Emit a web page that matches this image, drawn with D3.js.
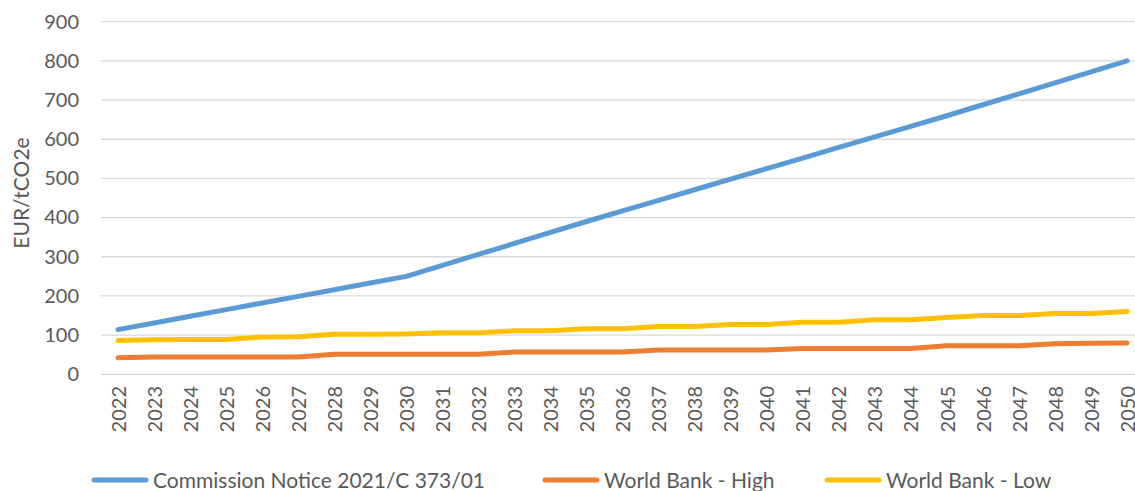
<!DOCTYPE html>
<html>
  <head>
    <meta charset="UTF-8">
    <title>Carbon price paths</title>
    <style>
    body {
      margin: 0;
      background: #fff;
    }
    svg text {
      font-family: Lato, "Open Sans", sans-serif;
      fill: #595959;
    }
    .grid line {
      stroke: #d9d9d9;
      stroke-width: 1.3px;
    }
    .series {
      fill: none;
      stroke-width: 5px;
      stroke-linejoin: round;
      stroke-linecap: round;
    }
    </style>
  </head>
  <body>
    <svg width="1135" height="491"></svg>
    <script src="https://d3js.org/d3.v7.min.js"></script>
    <script>
// data (EUR/tCO2e)
var years = [2022, 2023, 2024, 2025, 2026, 2027, 2028, 2029, 2030, 2031,
             2032, 2033, 2034, 2035, 2036, 2037, 2038, 2039, 2040, 2041,
             2042, 2043, 2044, 2045, 2046, 2047, 2048, 2049, 2050];
var commission = [114, 131, 148, 165, 182, 199, 216, 233, 250, 278,
                  306, 334, 362, 390, 417, 444, 471, 498, 525, 552,
                  579, 606, 633, 660, 688, 716, 744, 772, 800];
var wbHigh = [42, 44, 44, 44, 44, 44, 51, 51, 51, 51,
              51, 57, 57, 57, 57, 62, 62, 62, 62, 66,
              66, 66, 66, 73, 73, 73, 78, 79, 80];
var wbLow = [86, 88, 89, 89, 95, 96, 102, 102, 103, 106,
             106, 111, 111, 116, 116, 122, 122, 127, 127, 133,
             133, 139, 139, 145, 150, 150, 155, 155, 160];
var yTicks = [0, 100, 200, 300, 400, 500, 600, 700, 800, 900];
var seriesNames = ["Commission Notice 2021/C 373/01", "World Bank - High", "World Bank - Low"];
var seriesColors = ["#5b9bd5", "#ed7d31", "#ffc000"];

var svg = d3.select("svg");

var x = d3.scalePoint().domain(years).range([118, 1127]);
var y = d3.scaleLinear().domain([0, 900]).range([374.3, 21.7]);

// horizontal gridlines
svg.append("g")
    .attr("class", "grid")
  .selectAll("line")
  .data(yTicks)
  .enter().append("line")
    .attr("x1", 101)
    .attr("x2", 1135)
    .attr("y1", d => y(d))
    .attr("y2", d => y(d));

// y axis labels
var yAxis = svg.append("g")
    .attr("transform", "translate(79,0)")
    .call(d3.axisLeft(y).tickValues(yTicks).tickSize(0).tickPadding(0));
yAxis.select(".domain").remove();
yAxis.selectAll("text")
    .style("font-size", "20px")
    .style("font-family", "Lato, sans-serif")
    .attr("fill", "#595959");

svg.append("text")
    .attr("transform", "translate(29,193) rotate(-90)")
    .attr("text-anchor", "middle")
    .style("font-size", "21px")
    .text("EUR/tCO2e");

// x axis labels, rotated
var xAxis = svg.append("g")
    .attr("transform", "translate(0,386)")
    .call(d3.axisBottom(x).tickSize(0).tickPadding(0));
xAxis.select(".domain").remove();
xAxis.selectAll("text")
    .style("font-size", "20px")
    .style("font-family", "Lato, sans-serif")
    .attr("fill", "#595959")
    .attr("text-anchor", "end")
    .attr("transform", "rotate(-90)")
    .attr("x", 0)
    .attr("y", 0)
    .attr("dy", "0.36em");

// lines
var line = d3.line()
    .x((d, i) => x(years[i]))
    .y(d => y(d));

var allSeries = [commission, wbHigh, wbLow];

svg.selectAll("path.series")
  .data(allSeries)
  .enter().append("path")
    .attr("class", "series")
    .attr("stroke", (d, i) => seriesColors[i])
    .attr("d", line);

// legend
var legendX = [92, 543, 825];
var legend = svg.selectAll("g.legend")
  .data(seriesNames)
  .enter().append("g")
    .attr("class", "legend")
    .attr("transform", (d, i) => "translate(" + legendX[i] + ",480)");

legend.append("line")
    .attr("x1", 2)
    .attr("x2", 54)
    .attr("stroke", (d, i) => seriesColors[i])
    .attr("stroke-width", 5)
    .attr("stroke-linecap", "round");

legend.append("text")
    .attr("x", 61)
    .attr("dy", "0.36em")
    .style("font-size", "21px")
    .text(d => d);
    </script>
  </body>
</html>
